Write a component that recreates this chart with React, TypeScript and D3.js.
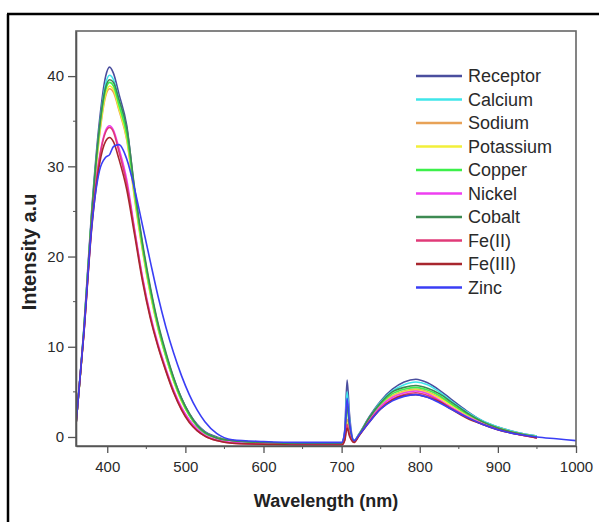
import React, { useEffect, useRef } from 'react';
import * as d3 from 'd3';

// wavelength grid (nm) shared by every spectrum
const wavelengths = [360, 370, 380, 390, 398, 403, 408, 415, 425, 435, 445, 455, 465, 475, 485, 495, 505, 515, 525, 540, 560, 600, 650, 700, 704, 707, 710, 716, 722, 735, 750, 765, 780, 795, 810, 825, 840, 860, 880, 900, 925, 950, 975, 1000];

const receptor = [1.5, 12, 25, 35, 40, 41, 40.3, 38, 34.5, 27.3, 21.3, 16.4, 12.4, 9.2, 6.5, 4.3, 2.6, 1.4, 0.6, 0, -0.4, -0.6, -0.7, -0.7, 0.8, 6.3, 2.6, -0.4, 0.3, 2.2, 4.0, 5.3, 6.1, 6.4, 6.0, 5.2, 4.2, 2.9, 1.8, 1.1, 0.5, 0.1, null, null];
const calcium = [1.4, 11.8, 24.6, 34.3, 39.2, 40.1, 39.6, 37.4, 33.9, 27.0, 21.1, 16.3, 12.3, 9.1, 6.4, 4.2, 2.5, 1.3, 0.5, -0.1, -0.4, -0.6, -0.7, -0.7, 0.6, 5.0, 2.0, -0.4, 0.3, 2.1, 3.9, 5.1, 5.8, 6.1, 5.8, 5.0, 4.0, 2.8, 1.8, 1.1, 0.5, 0.1, null, null];
const sodium = [1.4, 11.5, 24.0, 33.3, 37.8, 38.6, 38.2, 36.2, 32.9, 26.4, 20.7, 15.9, 12.0, 8.9, 6.2, 4.0, 2.4, 1.2, 0.4, -0.1, -0.4, -0.6, -0.7, -0.7, 0.2, 2.0, 0.8, -0.5, 0.2, 2.0, 3.6, 4.6, 5.1, 5.3, 5.0, 4.4, 3.6, 2.5, 1.6, 1.0, 0.4, 0.0, null, null];
const potassium = [1.4, 11.6, 24.2, 33.6, 38.0, 38.9, 38.5, 36.4, 33.1, 26.6, 20.9, 16.0, 12.1, 9.0, 6.2, 4.0, 2.4, 1.2, 0.4, -0.1, -0.4, -0.6, -0.7, -0.7, 0.1, 1.6, 0.6, -0.5, 0.2, 1.9, 3.5, 4.5, 5.0, 5.2, 4.9, 4.3, 3.5, 2.4, 1.6, 1.0, 0.4, 0.0, null, null];
const copper = [1.4, 11.7, 24.4, 34.0, 38.5, 39.3, 38.9, 36.8, 33.5, 27.0, 21.1, 16.2, 12.2, 9.0, 6.3, 4.1, 2.4, 1.2, 0.4, -0.1, -0.4, -0.6, -0.7, -0.7, 0.4, 3.2, 1.3, -0.5, 0.2, 2.0, 3.7, 4.8, 5.3, 5.5, 5.2, 4.6, 3.7, 2.6, 1.7, 1.0, 0.4, 0.0, null, null];
const nickel = [1.4, 11.5, 23.5, 31.0, 34.0, 34.5, 34.0, 32.0, 28.5, 23.0, 17.8, 13.6, 10.3, 7.6, 5.2, 3.3, 1.9, 0.9, 0.2, -0.3, -0.6, -0.8, -0.8, -0.8, 0.5, 4.0, 1.6, -0.5, 0.2, 1.8, 3.4, 4.4, 4.9, 5.1, 4.8, 4.1, 3.3, 2.3, 1.5, 0.9, 0.3, -0.1, null, null];
const cobalt = [1.4, 11.8, 24.6, 34.3, 38.8, 39.6, 39.3, 37.4, 34.2, 27.6, 21.6, 16.7, 12.6, 9.4, 6.6, 4.3, 2.6, 1.3, 0.5, -0.1, -0.4, -0.6, -0.7, -0.7, 0.3, 3.5, 1.4, -0.5, 0.2, 2.1, 3.8, 5.0, 5.5, 5.7, 5.4, 4.8, 3.9, 2.7, 1.7, 1.0, 0.4, 0.0, null, null];
const fe2 = [1.4, 11.4, 23.3, 30.8, 33.8, 34.3, 33.8, 31.6, 28.0, 22.8, 17.6, 13.4, 10.1, 7.4, 5.0, 3.1, 1.7, 0.7, 0.1, -0.4, -0.7, -0.8, -0.9, -0.9, -0.3, 1.4, 0.3, -0.6, 0.1, 1.7, 3.2, 4.2, 4.7, 4.9, 4.6, 4.0, 3.2, 2.2, 1.4, 0.8, 0.3, -0.1, null, null];
const fe3 = [1.4, 11.3, 23.0, 30.2, 32.8, 33.2, 32.7, 30.8, 27.4, 22.4, 17.3, 13.2, 10.0, 7.3, 4.9, 3.0, 1.6, 0.7, 0.1, -0.4, -0.7, -0.8, -0.9, -0.9, -0.4, 1.0, 0.1, -0.6, 0.1, 1.6, 3.1, 4.1, 4.6, 4.7, 4.4, 3.9, 3.1, 2.1, 1.4, 0.8, 0.3, -0.1, null, null];
const zinc = [1.4, 11.5, 23.2, 29.5, 31.0, 31.3, 32.2, 32.4, 30.8, 27.5, 23.5, 19.5, 15.6, 12.2, 9.3, 6.8, 4.7, 3.0, 1.7, 0.4, -0.3, -0.5, -0.6, -0.6, 0.5, 4.3, 1.7, -0.4, 0.2, 1.6, 3.1, 4.0, 4.5, 4.7, 4.4, 3.8, 3.1, 2.2, 1.4, 0.8, 0.3, 0.0, -0.2, -0.4];

const seriesNames = ['Receptor', 'Calcium', 'Sodium', 'Potassium', 'Copper', 'Nickel', 'Cobalt', 'Fe(II)', 'Fe(III)', 'Zinc'];
const seriesValues = [receptor, calcium, sodium, potassium, copper, nickel, cobalt, fe2, fe3, zinc];
const seriesColors = ['#4a4e9e', '#3fe6ea', '#e8a257', '#f2ef3a', '#3cf04a', '#ee3ff0', '#3d8a52', '#e03a78', '#a8262e', '#3a3ef5'];

const xTicks = [400, 500, 600, 700, 800, 900, 1000];
const xMinorTicks = [450, 550, 650, 750, 850, 950];
const yTicks = [0, 10, 20, 30, 40];
const yMinorTicks = [5, 15, 25, 35];

const W = 599;
const H = 522;
const margin = { left: 76, top: 31, right: 23, bottom: 76 };

export default function App() {
    const ref = useRef<SVGSVGElement>(null);

    useEffect(() => {
        const svg = d3.select(ref.current);
        svg.selectAll('*').remove();

        const width = W - margin.left - margin.right;
        const height = H - margin.top - margin.bottom;

        // outer frame (only top and left edges show)
        svg.append('line').attr('x1', 7).attr('x2', W).attr('y1', 14).attr('y2', 14)
            .attr('stroke', '#000').attr('stroke-width', 2.5);
        svg.append('line').attr('x1', 8).attr('x2', 8).attr('y1', 14).attr('y2', H)
            .attr('stroke', '#000').attr('stroke-width', 2.5);

        const g = svg.append('g').attr('transform', `translate(${margin.left}, ${margin.top})`);

        const x = d3.scaleLinear().domain([360, 1000]).range([0, width]);
        const y = d3.scaleLinear().domain([-1, 45]).range([height, 0]);

        g.append('clipPath').attr('id', 'plot-clip')
            .append('rect').attr('width', width).attr('height', height);

        // spectra
        const line = d3.line<[number, number | null]>()
            .defined(d => d[1] !== null)
            .x(d => x(d[0]))
            .y(d => y(d[1] as number))
            .curve(d3.curveMonotoneX);

        seriesValues.forEach((vals, i) => {
            const pts = wavelengths.map((w, j) => [w, vals[j]] as [number, number | null]);
            g.append('path')
                .attr('clip-path', 'url(#plot-clip)')
                .attr('d', line(pts))
                .attr('fill', 'none')
                .attr('stroke', seriesColors[i])
                .attr('stroke-width', 1.6);
        });

        // frame
        g.append('rect').attr('width', width).attr('height', height)
            .attr('fill', 'none').attr('stroke', '#666').attr('stroke-width', 1.6);

        // axes
        const fontFamily = 'Arial, "Liberation Sans", sans-serif';
        const xAxis = g.append('g').attr('transform', `translate(0, ${height})`)
            .call(d3.axisBottom(x).tickValues(xTicks).tickFormat(d3.format('d'))
                .tickSize(7).tickPadding(8).tickSizeOuter(0));
        xAxis.append('g').selectAll('line').data(xMinorTicks).enter().append('line')
            .attr('x1', d => x(d)).attr('x2', d => x(d)).attr('y1', 0).attr('y2', 3)
            .attr('stroke', '#555');
        const yAxis = g.append('g')
            .call(d3.axisLeft(y).tickValues(yTicks).tickSize(8).tickPadding(4).tickSizeOuter(0));
        yAxis.append('g').selectAll('line').data(yMinorTicks).enter().append('line')
            .attr('x1', 0).attr('x2', -3).attr('y1', d => y(d)).attr('y2', d => y(d))
            .attr('stroke', '#555');

        [xAxis, yAxis].forEach(ax => {
            ax.select('.domain').attr('stroke', '#555').attr('stroke-width', 1.6);
            ax.selectAll('.tick line').attr('stroke', '#555').attr('stroke-width', 1.3);
            ax.selectAll('.tick text')
                .attr('fill', '#2a2a2a')
                .attr('font-size', '15px')
                .attr('font-family', fontFamily);
        });

        // axis titles
        svg.append('text')
            .attr('x', 326).attr('y', 507)
            .attr('text-anchor', 'middle')
            .attr('font-family', fontFamily).attr('font-weight', 'bold').attr('font-size', '18px')
            .attr('fill', '#222')
            .text('Wavelength (nm)');
        svg.append('text')
            .attr('transform', `translate(36, 252) rotate(-90)`)
            .attr('text-anchor', 'middle')
            .attr('font-family', fontFamily).attr('font-weight', 'bold').attr('font-size', '20px')
            .attr('fill', '#222')
            .text('Intensity a.u');

        // legend
        const legend = svg.append('g');
        seriesNames.forEach((name, i) => {
            const ly = 76 + i * 23.5;
            legend.append('line')
                .attr('x1', 416).attr('x2', 462).attr('y1', ly).attr('y2', ly)
                .attr('stroke', seriesColors[i]).attr('stroke-width', 2.5);
            legend.append('text')
                .attr('x', 468).attr('y', ly).attr('dy', '0.35em')
                .attr('font-family', fontFamily).attr('font-size', '18px')
                .attr('fill', '#2a2a2a')
                .text(name);
        });
    }, []);

    return (
        <svg ref={ref} width={W} height={H}
            style={{ position: 'absolute', left: 0, top: 0, background: '#fff', display: 'block' }} />
    );
}
